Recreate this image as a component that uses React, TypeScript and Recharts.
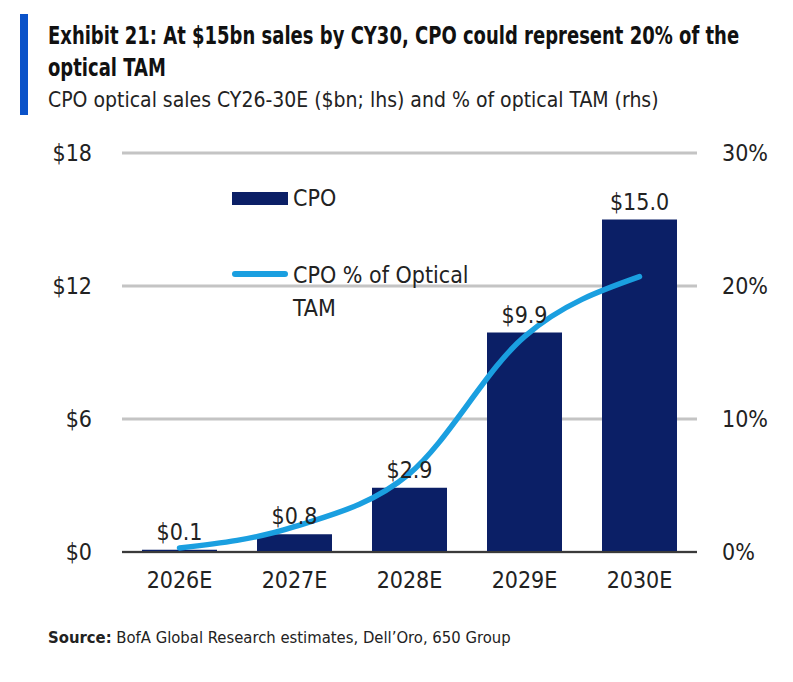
import React from 'react';
import {
  ComposedChart,
  Bar,
  Line,
  XAxis,
  YAxis,
  CartesianGrid,
  ReferenceLine,
  LabelList,
} from 'recharts';

const years = ['2026E', '2027E', '2028E', '2029E', '2030E'];
const cpoSales = [0.1, 0.8, 2.9, 9.9, 15.0];
const cpoShareOfTam = [0.3, 1.9, 5.9, 16.2, 20.7];
const leftTicks = [0, 6, 12, 18];
const rightTicks = [0, 10, 20, 30];

const data = years.map((year, i) => ({
  year,
  sales: cpoSales[i],
  share: cpoShareOfTam[i],
}));

const FONT = '"DejaVu Sans", "Liberation Sans Narrow", sans-serif';
const NAVY = '#0b1f66';
const LINE_BLUE = '#1a9fe0';
const TEXT = '#222222';

const tickStyle = { fontSize: 23, fill: TEXT, fontFamily: FONT, fontStretch: 'condensed' };

const App: React.FC = () => {
  return (
    <div
      style={{
        position: 'absolute',
        left: 0,
        top: 0,
        width: 793,
        height: 682,
        background: '#ffffff',
        fontFamily: FONT,
        fontStretch: 'condensed',
        color: TEXT,
      }}
    >
      <div style={{ position: 'absolute', left: 20, top: 14, width: 8, height: 101, background: '#0a52c9' }} />
      {/* title is squeezed horizontally to mimic the condensed face */}
      <div
        style={{
          position: 'absolute',
          left: 48,
          top: 20,
          width: 920,
          fontSize: 25,
          fontWeight: 700,
          lineHeight: '32px',
          color: '#111',
          transform: 'scaleX(0.8)',
          transformOrigin: 'left top',
        }}
      >
        Exhibit 21: At $15bn sales by CY30, CPO could represent 20% of the optical TAM
      </div>
      <div style={{ position: 'absolute', left: 48, top: 86, fontSize: 21, lineHeight: '28px', whiteSpace: 'nowrap' }}>
        CPO optical sales CY26-30E ($bn; lhs) and % of optical TAM (rhs)
      </div>

      <div style={{ position: 'absolute', left: 0, top: 0 }}>
        <ComposedChart
          width={793}
          height={682}
          data={data}
          margin={{ top: 153, right: 36, bottom: 90, left: 62 }}
        >
          <CartesianGrid vertical={false} stroke="#c4c4c4" strokeWidth={3} yAxisId="left" />
          <XAxis
            dataKey="year"
            axisLine={false}
            tickLine={false}
            tickSize={0}
            tickMargin={20}
            interval={0}
            tick={tickStyle}
            height={40}
          />
          <YAxis
            yAxisId="left"
            orientation="left"
            domain={[0, 18]}
            ticks={leftTicks}
            axisLine={false}
            tickLine={false}
            tickSize={0}
            tickMargin={30}
            width={60}
            tickFormatter={(v: number) => `$${v}`}
            tick={tickStyle}
          />
          <YAxis
            yAxisId="right"
            orientation="right"
            domain={[0, 30]}
            ticks={rightTicks}
            axisLine={false}
            tickLine={false}
            tickSize={0}
            tickMargin={25}
            width={60}
            tickFormatter={(v: number) => `${v}%`}
            tick={tickStyle}
          />
          <Bar yAxisId="left" dataKey="sales" name="CPO" fill={NAVY} barSize={75} isAnimationActive={false}>
            <LabelList
              dataKey="sales"
              position="top"
              offset={10}
              formatter={(v: number) => `$${Number(v).toFixed(1)}`}
              style={tickStyle}
            />
          </Bar>
          <ReferenceLine yAxisId="left" y={0} stroke="#3a3a3a" strokeWidth={2} />
          <Line
            yAxisId="right"
            type="monotone"
            dataKey="share"
            name="CPO % of Optical TAM"
            stroke={LINE_BLUE}
            strokeWidth={5.5}
            strokeLinecap="round"
            dot={false}
            isAnimationActive={false}
          />
        </ComposedChart>
      </div>

      {/* legend */}
      <div style={{ position: 'absolute', left: 232, top: 192, width: 56, height: 13, background: NAVY }} />
      <div style={{ position: 'absolute', left: 293, top: 184, fontSize: 23, lineHeight: '28px' }}>CPO</div>
      <div
        style={{ position: 'absolute', left: 232, top: 271, width: 56, height: 6, borderRadius: 3, background: LINE_BLUE }}
      />
      <div style={{ position: 'absolute', left: 293, top: 259, fontSize: 23, lineHeight: '33px' }}>
        CPO % of Optical
        <br />
        TAM
      </div>

      <div style={{ position: 'absolute', left: 48, top: 627, fontSize: 16.5, lineHeight: '22px', whiteSpace: 'nowrap' }}>
        <span style={{ fontWeight: 700 }}>Source:</span> BofA Global Research estimates, Dell’Oro, 650 Group
      </div>
    </div>
  );
};

export default App;
